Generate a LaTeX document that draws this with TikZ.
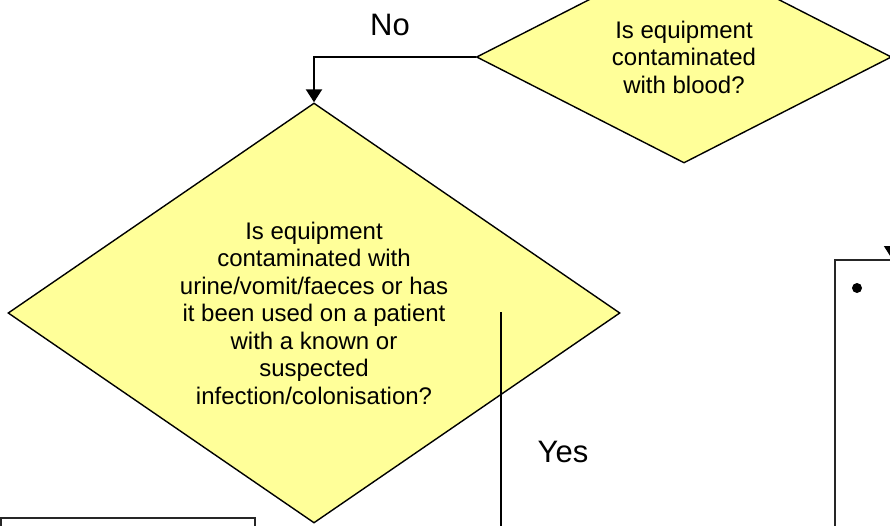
\documentclass[tikz,border=0pt]{standalone}
\usepackage{fontspec}
\setmainfont{Liberation Sans}
\usetikzlibrary{shapes.geometric,arrows.meta}
\definecolor{dyellow}{RGB}{255,255,153}
\begin{document}
\begin{tikzpicture}[x=1pt,y=-1pt,
  decision/.style={diamond,draw=black,fill=dyellow,line width=1.4pt,inner sep=0pt,align=center,
    font=\fontsize{24}{27.5}\selectfont},
  lbl/.style={font=\fontsize{31}{36}\selectfont,inner sep=0pt},
  plainbox/.style={draw=black!85,line width=1.8pt,fill=none,inner sep=0pt,anchor=north west},
  conn/.style={line width=2.2pt,-{Triangle[length=13pt,width=16pt]}},
  thinconn/.style={line width=1.5pt},
]
\useasboundingbox (0,0) rectangle (890,525);
\clip (0,0) rectangle (890,525);

% decisions
\node[decision,minimum width=415pt,minimum height=212pt,aspect=1.95] (blood) at (684,57)
  {Is equipment\\contaminated\\with blood?};
\node[decision,minimum width=612pt,minimum height=420pt,aspect=1.457] (urine) at (314,313)
  {Is equipment\\contaminated with\\urine/vomit/faeces or has\\it been used on a patient\\with a known or\\suspected\\infection/colonisation?};

% boxes partly visible
\node[plainbox,minimum width=90pt,minimum height=300pt] (rbox) at (834,259) {};
\node[plainbox,minimum width=254pt,minimum height=60pt] (lbox) at (0,517) {};
\node[circle,fill=black,inner sep=0pt,minimum size=10pt] (bullet) at (857,288) {};

% connectors
\draw[conn] (blood.west) -| (urine.north);

\coordinate (yesstart) at (501,312);
\coordinate (yesend) at (501,560);
\draw[thinconn] (yesstart) -- (yesend);

\coordinate (ytop) at (892,190);
\draw[conn,line width=1.5pt] (ytop) -- (ytop |- rbox.north);

% labels
\node[lbl] (no) at (390,25) {No};
\node[lbl] (yes) at (563,452) {Yes};
\end{tikzpicture}
\end{document}
